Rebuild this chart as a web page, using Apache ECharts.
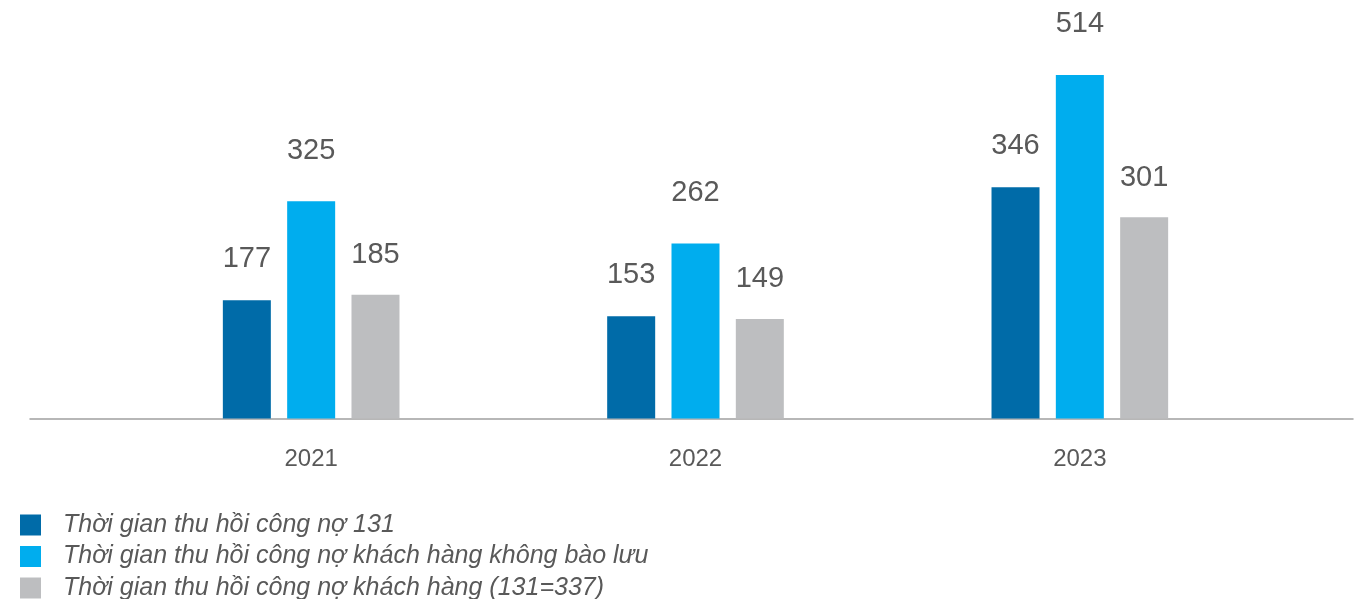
<!DOCTYPE html>
<html>
<head>
<meta charset="utf-8">
<style>
  html, body { margin: 0; padding: 0; background: #fff; }
  #chart { width: 1354px; height: 599px; }
</style>
<script src="https://cdn.jsdelivr.net/npm/echarts@6/dist/echarts.min.js"></script>
</head>
<body>
<div id="chart"></div>
<script>
const years = ['2021', '2022', '2023'];
const seriesNames = [
  'Thời gian thu hồi công nợ 131',
  'Thời gian thu hồi công nợ khách hàng không bào lưu',
  'Thời gian thu hồi công nợ khách hàng (131=337)'
];
const debt131 = [177, 153, 346];
const noReserve = [325, 262, 514];
const customer337 = [185, 149, 301];
const colors = ['#006BA8', '#00ADEE', '#BDBEC0'];
// label gap above bars differs a bit per series in the original
const labelGap = [27, 36, 25];

const chart = echarts.init(document.getElementById('chart'));

const barSeries = [debt131, noReserve, customer337].map((vals, i) => ({
  name: seriesNames[i],
  type: 'bar',
  xAxisIndex: 0,
  yAxisIndex: 0,
  data: vals,
  barWidth: 48,
  barGap: '34%',
  itemStyle: { color: colors[i] },
  label: {
    show: true,
    position: 'top',
    distance: labelGap[i],
    fontSize: 29,
    fontFamily: 'Liberation Sans, Arial, sans-serif',
    color: '#595959'
  }
}));

chart.setOption({
  animation: false,
  textStyle: { fontFamily: 'Liberation Sans, Arial, sans-serif' },
  grid: [
    { left: 119, right: 82, top: 17.5, bottom: 180.5 },
    { left: 30, right: 1, top: 17.5, bottom: 180.5 }
  ],
  xAxis: [
    {
      type: 'category',
      gridIndex: 0,
      data: years,
      axisLine: { show: false },
      axisTick: { show: false },
      axisLabel: { fontSize: 24, color: '#595959', margin: 29 }
    },
    {
      type: 'category',
      gridIndex: 1,
      data: [''],
      axisLine: { show: true, lineStyle: { color: '#A0A0A0', width: 1.5 } },
      axisTick: { show: false },
      axisLabel: { show: false }
    }
  ],
  yAxis: [
    { type: 'value', gridIndex: 0, min: 0, max: 600, show: false },
    { type: 'value', gridIndex: 1, min: 0, max: 600, show: false }
  ],
  legend: {
    orient: 'vertical',
    left: 20,
    top: 512.5,
    width: 900,
    height: 120,
    padding: 0,
    itemWidth: 21,
    itemHeight: 21,
    itemGap: 6.5,
    icon: 'rect',
    data: seriesNames,
    textStyle: {
      fontSize: 25,
      lineHeight: 21,
      fontStyle: 'italic',
      color: '#595959',
      padding: [0, 0, 0, 17]
    }
  },
  series: barSeries
});
</script>
</body>
</html>
